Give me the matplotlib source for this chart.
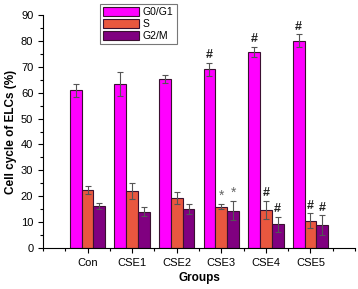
import matplotlib
matplotlib.use("Agg")
import matplotlib.pyplot as plt
import numpy as np
from matplotlib.ticker import MultipleLocator

plt.rcParams['font.family'] = ['Liberation Sans', 'DejaVu Sans']

groups = ["Con", "CSE1", "CSE2", "CSE3", "CSE4", "CSE5"]
g0g1 = [61.0, 63.3, 65.3, 69.1, 75.7, 80.0]
g0g1_err = [2.5, 4.5, 1.5, 2.5, 2.0, 2.5]
s_phase = [22.4, 22.1, 19.3, 16.0, 14.7, 10.5]
s_err = [1.6, 3.2, 2.2, 1.0, 3.6, 2.9]
g2m = [16.3, 14.0, 15.0, 14.4, 9.1, 8.9]
g2m_err = [1.2, 1.7, 1.9, 3.7, 3.0, 3.8]
g0g1_marks = ["", "", "", "#", "#", "#"]
s_marks = ["", "", "", "*", "#", "#"]
g2m_marks = ["", "", "", "*", "#", "#"]

fig = plt.figure(figsize=(3.58, 2.89), dpi=100)
ax = fig.add_axes([43/358, 1-248/289, (355-43)/358, (248-15)/289])

x = np.arange(1, len(groups)+1)
w = 0.265
cols = ["#FF00FF", "#E9573F", "#800080"]
series = [(g0g1, g0g1_err, g0g1_marks, "G0/G1"), (s_phase, s_err, s_marks, "S"), (g2m, g2m_err, g2m_marks, "G2/M")]
for i, (vals, errs, marks, lab) in enumerate(series):
    pos = x + (i-1)*w
    ax.bar(pos, vals, w, color=cols[i], edgecolor="#3a1030", linewidth=0.8, label=lab,
           yerr=errs, error_kw=dict(ecolor="#555555", elinewidth=0.8, capsize=2, capthick=0.8))
    for p, v, e, m in zip(pos, vals, errs, marks):
        if m:
            ax.text(p, v+e+0.6, m, ha="center", va="bottom", fontsize=9 if m == "#" else 10,
                    fontweight="bold" if m == "#" else "normal",
                    color="#222222" if m == "#" else "#666666")

ax.set_xlim(0, 7)
ax.set_ylim(0, 90)
ax.set_xticks(x)
ax.set_xticklabels(groups)
ax.xaxis.set_minor_locator(MultipleLocator(0.5))
ax.yaxis.set_major_locator(MultipleLocator(10))
ax.yaxis.set_minor_locator(MultipleLocator(5))
ax.tick_params(axis="both", which="major", direction="out", length=3.5, width=0.8, labelsize=8)
ax.tick_params(axis="both", which="minor", direction="out", length=2, width=0.8)
for s in ["top", "right"]:
    ax.spines[s].set_visible(False)
for s in ["left", "bottom"]:
    ax.spines[s].set_linewidth(0.8)
ax.set_ylabel("Cell cycle of ELCs (%)", fontsize=8.5, fontweight="bold", labelpad=3)
ax.set_xlabel("Groups", fontsize=8.5, fontweight="bold", labelpad=3)

leg = ax.legend(loc="upper left", bbox_to_anchor=(100/358, 1-4/289), bbox_transform=fig.transFigure,
                fontsize=7.5, frameon=True, fancybox=False, edgecolor="#555555",
                handlelength=3.4, handleheight=0.9, handletextpad=0.4, labelspacing=0.2,
                borderpad=0.3, borderaxespad=0)
leg.get_frame().set_linewidth(0.8)

fig.savefig("out.png", dpi=100)
